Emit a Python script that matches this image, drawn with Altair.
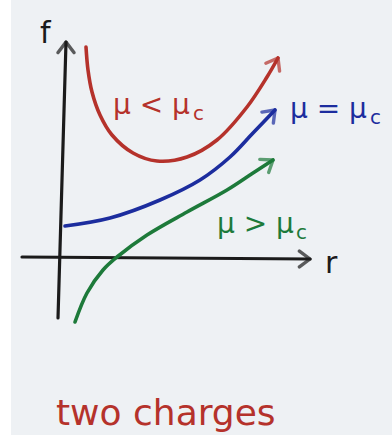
import altair as alt
import pandas as pd

# Sketch of f(r) for two charges at three values of mu (units: r, f in arbitrary sketch units)
red_r = [2.4, 2.6, 3.0, 3.8, 5.0, 7.1, 9.5, 12.5, 15.5, 18.5, 20.5, 21.6]
red_f = [21.1, 18.8, 16.6, 14.3, 12.3, 10.5, 9.7, 10.1, 11.8, 15.1, 18.1, 20.0]

blue_r = [0.3, 4.8, 9.8, 13.8, 16.8, 19.1, 21.3]
blue_f = [3.2, 4.0, 5.8, 7.8, 10.1, 12.5, 14.8]

green_r = [1.3, 2.5, 4.1, 5.5, 8.5, 12.5, 16.5, 19.1, 21.1]
green_f = [-6.4, -3.5, -1.2, 0.1, 2.3, 4.6, 6.8, 8.5, 9.8]

# axes drawn as arrows
yaxis_r = [-0.4, 0.4]
yaxis_f = [-6.0, 21.6]
xaxis_r = [-4.0, 24.8]
xaxis_f = [0.1, -0.1]

RED, BLUE, GREEN, INK = "#b5322b", "#1c2d9e", "#1d7a3a", "#1b1b1b"

X = alt.Scale(domain=[-6.2, 33.0], zero=False, nice=False)
Y = alt.Scale(domain=[-17.7, 25.8], zero=False, nice=False)


def curve(rs, fs, color, name, width=3.6):
    df = pd.DataFrame({"r": rs, "f": fs, "i": range(len(rs)), "s": name})
    return alt.Chart(df).mark_line(
        color=color, strokeWidth=width, strokeCap="round", strokeJoin="round",
        interpolate="catmull-rom"
    ).encode(
        x=alt.X("r:Q", scale=X, axis=None),
        y=alt.Y("f:Q", scale=Y, axis=None),
        order="i:Q",
    )


# open arrowheads at the ends of the curves and axes
heads = pd.DataFrame({
    "r": [red_r[-1], blue_r[-1], green_r[-1], yaxis_r[-1], xaxis_r[-1]],
    "f": [red_f[-1], blue_f[-1], green_f[-1], yaxis_f[-1], xaxis_f[-1]],
    "angle": [30, 44, 56, 0, 90],
    "color": [RED, BLUE, GREEN, INK, INK],
})
arrowheads = alt.Chart(heads).mark_point(
    shape="M -0.6 0.8 L 0 0 L 0.6 0.8", filled=False, strokeWidth=3.4,
    size=700, strokeCap="round", strokeJoin="round"
).encode(
    x=alt.X("r:Q", scale=X),
    y=alt.Y("f:Q", scale=Y),
    angle=alt.Angle("angle:Q", scale=None),
    stroke=alt.Color("color:N", scale=None),
)

# text labels
lab_text = ["f", "r", "μ < μ", "c", "μ = μ", "c", "μ > μ", "c", "two charges"]
lab_r = [-2.2, 26.3, 5.1, 13.1, 22.8, 30.8, 15.5, 23.4, -0.6]
lab_f = [22.4, -0.6, 15.2, 14.4, 14.8, 14.0, 3.3, 2.5, -15.6]
lab_size = [30, 30, 28, 20, 28, 20, 28, 20, 36]
lab_color = [INK, INK, RED, RED, BLUE, BLUE, GREEN, GREEN, RED]
labels_df = pd.DataFrame({"t": lab_text, "r": lab_r, "f": lab_f,
                          "size": lab_size, "color": lab_color})
labels = alt.Chart(labels_df).mark_text(
    align="left", baseline="middle", font="DejaVu Sans"
).encode(
    x=alt.X("r:Q", scale=X),
    y=alt.Y("f:Q", scale=Y),
    text="t:N",
    size=alt.Size("size:Q", scale=None),
    color=alt.Color("color:N", scale=None),
)

paper = alt.Chart(pd.DataFrame({"a": [0]})).mark_rect(color="#eef1f4").encode(
    x=alt.value(11), x2=alt.value(392), y=alt.value(0), y2=alt.value(435)
)

chart = alt.layer(
    paper,
    curve(yaxis_r, yaxis_f, INK, "yaxis", 3.2),
    curve(xaxis_r, xaxis_f, INK, "xaxis", 3.2),
    curve(red_r, red_f, RED, "red"),
    curve(blue_r, blue_f, BLUE, "blue"),
    curve(green_r, green_f, GREEN, "green"),
    arrowheads,
    labels,
).properties(
    width=392, height=435, background="#ffffff",
    autosize=alt.AutoSizeParams(type="none"), padding=0,
).configure_view(stroke=None)

chart.save("out.html", embed_options={"renderer": "svg", "actions": False})
